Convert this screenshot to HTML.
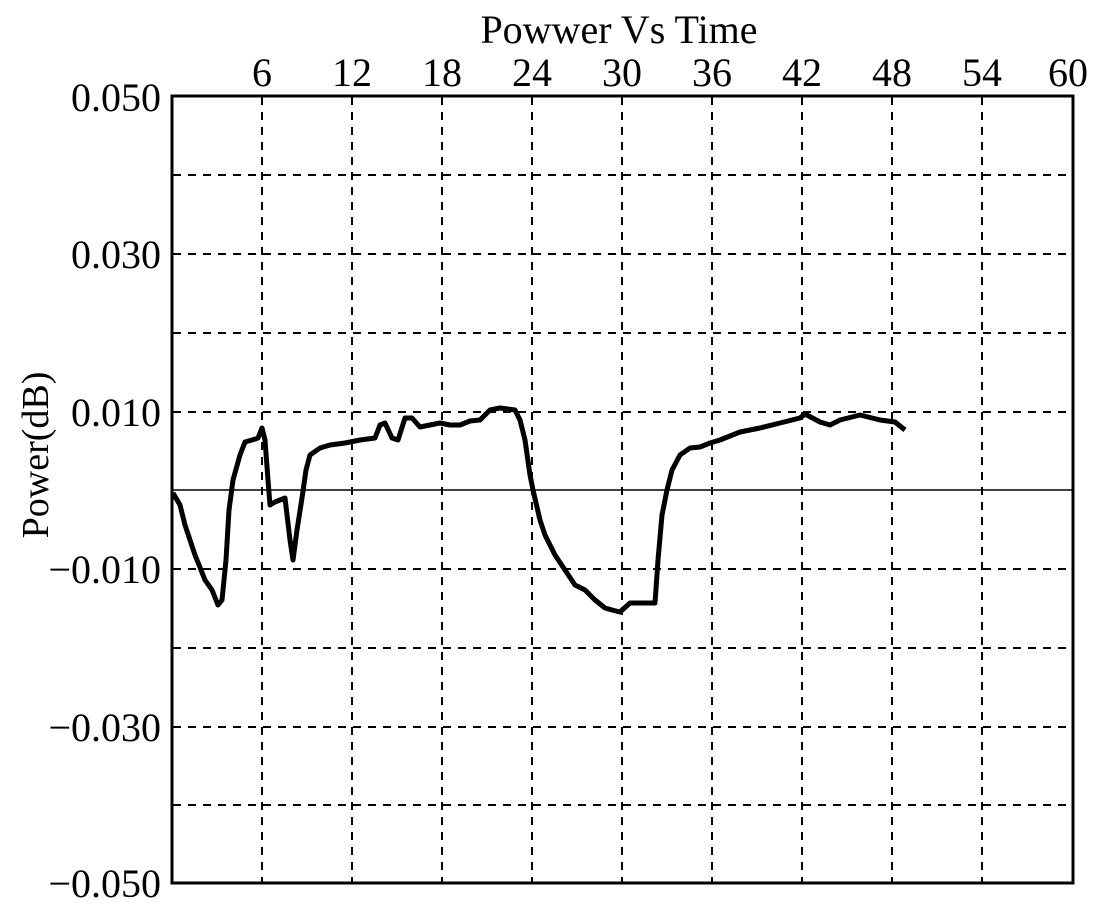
<!DOCTYPE html>
<html><head><style>html,body{margin:0;padding:0;background:#fff;}</style></head>
<body>
<svg width="1100" height="908" xmlns="http://www.w3.org/2000/svg" font-family="Liberation Serif, serif" fill="#000">
<rect width="1100" height="908" fill="#fff"/>
<g stroke="#000" stroke-width="2" stroke-dasharray="8,7">
<line x1="262" y1="97" x2="262" y2="882"/><line x1="352" y1="97" x2="352" y2="882"/>
<line x1="442" y1="97" x2="442" y2="882"/><line x1="532" y1="97" x2="532" y2="882"/>
<line x1="622" y1="97" x2="622" y2="882"/><line x1="712" y1="97" x2="712" y2="882"/>
<line x1="802" y1="97" x2="802" y2="882"/><line x1="892" y1="97" x2="892" y2="882"/>
<line x1="982" y1="97" x2="982" y2="882"/>
<line x1="173" y1="175" x2="1072" y2="175"/><line x1="173" y1="254" x2="1072" y2="254"/>
<line x1="173" y1="333" x2="1072" y2="333"/><line x1="173" y1="412" x2="1072" y2="412"/>
<line x1="173" y1="569" x2="1072" y2="569"/><line x1="173" y1="648" x2="1072" y2="648"/>
<line x1="173" y1="727" x2="1072" y2="727"/><line x1="173" y1="805" x2="1072" y2="805"/>
</g>
<line x1="172" y1="490" x2="1073" y2="490" stroke="#000" stroke-width="1.5"/>
<rect x="172" y="96" width="901" height="787" fill="none" stroke="#000" stroke-width="3"/>
<polyline fill="none" stroke="#000" stroke-width="5" stroke-linejoin="round" points="173,493 180,505 185,525 195,555 205,580 212,590 218,605 222,600 226,560 229,510 233,480 240,455 245,442 252,440 258,438 262,428 265,440 268,480 270,505 275,502 280,500 285,498 290,540 293,560 297,530 302,498 306,470 310,455 320,448 330,445 345,443 360,440 375,438 380,425 385,423 392,438 398,440 405,418 412,418 420,427 430,425 440,423 450,425 460,425 470,421 480,420 490,410 500,408 515,410 520,420 525,440 530,475 533,490 540,520 545,535 555,555 565,570 575,585 585,590 595,600 605,608 612,610 620,612 630,603 655,603 658,560 662,515 667,490 672,470 680,455 690,448 700,447 710,443 720,440 740,432 760,428 780,423 800,418 805,414 820,422 830,425 840,420 860,415 880,420 895,422 905,430"/>
<g font-size="40" text-anchor="middle">
<text x="619" y="43">Powwer Vs Time</text>
<text x="262" y="86">6</text><text x="352" y="86">12</text><text x="442" y="86">18</text>
<text x="532" y="86">24</text><text x="622" y="86">30</text><text x="712" y="86">36</text>
<text x="802" y="86">42</text><text x="892" y="86">48</text><text x="982" y="86">54</text>
<text x="1068" y="86">60</text>
</g>
<g font-size="40" text-anchor="end">
<text x="161" y="111">0.050</text><text x="161" y="268">0.030</text>
<text x="161" y="426">0.010</text><text x="161" y="583">−0.010</text>
<text x="161" y="741">−0.030</text><text x="161" y="897">−0.050</text>
</g>
<text transform="translate(48,455) rotate(-90)" font-size="38" text-anchor="middle">Power(dB)</text>
</svg>
</body></html>
